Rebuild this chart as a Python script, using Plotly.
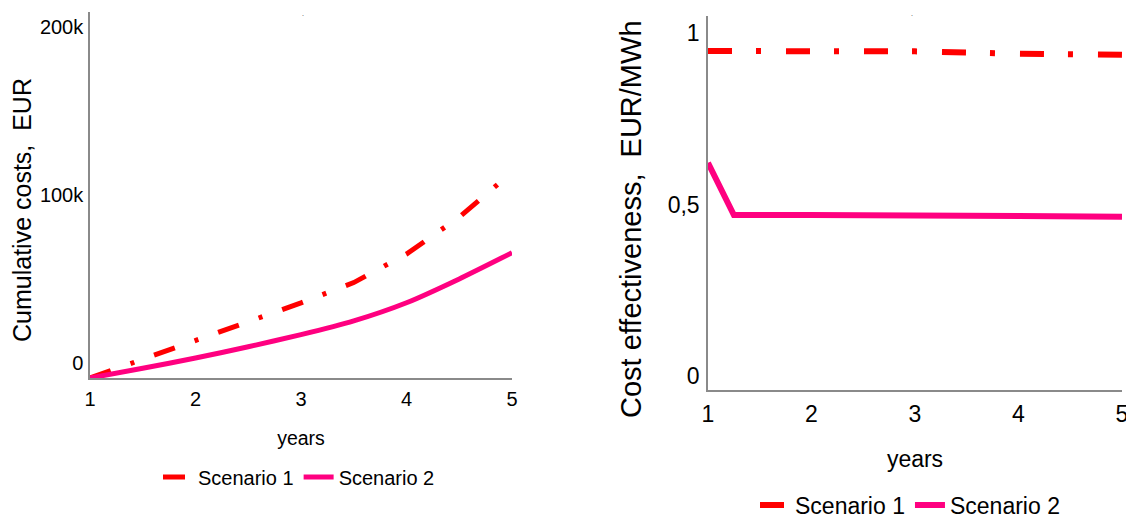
import plotly.graph_objects as go

# ---- data ----
years_left = [1, 1.5, 2, 2.5, 3, 3.5, 4, 4.5, 5]
cum_s1 = [0, 11000, 22000, 33000, 44700, 56800, 73800, 95800, 122500]
cum_s2 = [0, 5800, 11900, 18600, 25800, 34000, 44800, 59000, 74600]

years_right = [1, 1.25, 2, 3, 4, 5]
eff_s1 = [0.988, 0.988, 0.988, 0.987, 0.980, 0.977]
eff_s2 = [0.662, 0.510, 0.510, 0.510, 0.507, 0.505]

left_yticks = [0, 100000, 200000]
left_yticktext = ["0", "100k", "200k"]
right_yticks = [0, 0.5, 1]
right_yticktext = ["0", "0,5", "1"]
xticks = [1, 2, 3, 4, 5]

series_names = ["Scenario 1", "Scenario 2"]
RED = "#ff0000"
PINK = "#ff0080"
FONT = "Liberation Sans, Arial, sans-serif"

# the page body adds an 8px margin at the top-left of the figure
OFF = 8
W, H = 1134 - OFF, 517 - OFF


def fx(p):
    return (p - OFF) / W


def fy(p):
    return 1 - (p - OFF) / H


fig = go.Figure()
fig.add_trace(go.Scatter(x=years_left, y=cum_s1, name=series_names[0], mode="lines",
                         line=dict(color=RED, width=5, dash="22px,21px,4px,21px"),
                         xaxis="x", yaxis="y", legend="legend"))
fig.add_trace(go.Scatter(x=years_left, y=cum_s2, name=series_names[1], mode="lines",
                         line=dict(color=PINK, width=5, shape="spline", smoothing=0.6),
                         xaxis="x", yaxis="y", legend="legend"))
fig.add_trace(go.Scatter(x=years_right, y=eff_s1, name=series_names[0], mode="lines",
                         line=dict(color=RED, width=6, dash="24px,24px,5px,25px"),
                         xaxis="x2", yaxis="y2", legend="legend2"))
fig.add_trace(go.Scatter(x=years_right, y=eff_s2, name=series_names[1], mode="lines",
                         line=dict(color=PINK, width=6),
                         xaxis="x2", yaxis="y2", legend="legend2"))

axcommon = dict(showgrid=False, zeroline=False, showline=True, linecolor="#8a8a8a",
                linewidth=1.5, ticks="", color="#000")

fig.update_layout(
    width=W, height=H,
    margin=dict(l=0, r=0, t=0, b=0, autoexpand=False),
    paper_bgcolor="white", plot_bgcolor="white",
    font=dict(family=FONT, color="#000"),
    xaxis=dict(domain=[fx(90), fx(512)], range=[1, 5], tickvals=xticks,
               tickfont=dict(size=20), anchor="y", ticklabelstandoff=2,
               title=dict(text="years", font=dict(size=19.5), standoff=23), **axcommon),
    yaxis=dict(domain=[fy(378), fy(12)], range=[0, 217900],
               tickvals=left_yticks, ticktext=left_yticktext, tickfont=dict(size=20),
               ticklabelshift=-15, ticklabelstandoff=1, anchor="x", **axcommon),
    xaxis2=dict(domain=[fx(708), fx(1122)], range=[1, 5], tickvals=xticks,
                tickfont=dict(size=23), anchor="y2", ticklabelstandoff=3,
                title=dict(text="years", font=dict(size=23), standoff=25), **axcommon),
    yaxis2=dict(domain=[fy(390), fy(16)], range=[0, 1.09],
                tickvals=right_yticks, ticktext=right_yticktext, tickfont=dict(size=23),
                ticklabelshift=-14, ticklabelstandoff=2, anchor="x2", **axcommon),
    legend=dict(orientation="h", x=fx(158), xanchor="left", y=fy(477), yanchor="middle",
                font=dict(size=20), bgcolor="rgba(0,0,0,0)"),
    legend2=dict(orientation="h", x=fx(755), xanchor="left", y=fy(505), yanchor="middle",
                 font=dict(size=23), bgcolor="rgba(0,0,0,0)"),
    showlegend=True,
    annotations=[
        dict(text="Cumulative costs,\u00a0 EUR", textangle=-90, x=fx(22), y=fy(210),
             xref="paper", yref="paper", showarrow=False, font=dict(size=25),
             xanchor="center", yanchor="middle"),
        dict(text="Cost effectiveness,\u00a0 EUR/MWh", textangle=-90, x=fx(631), y=fy(219),
             xref="paper", yref="paper", showarrow=False, font=dict(size=29),
             xanchor="center", yanchor="middle"),
        dict(text=".", x=fx(300), y=1, xref="paper", yref="paper", showarrow=False,
             yanchor="top", font=dict(size=7, color="#333")),
        dict(text=".", x=fx(915), y=1, xref="paper", yref="paper", showarrow=False,
             yanchor="top", font=dict(size=7, color="#333")),
    ],
)

fig.write_html("out.html")
